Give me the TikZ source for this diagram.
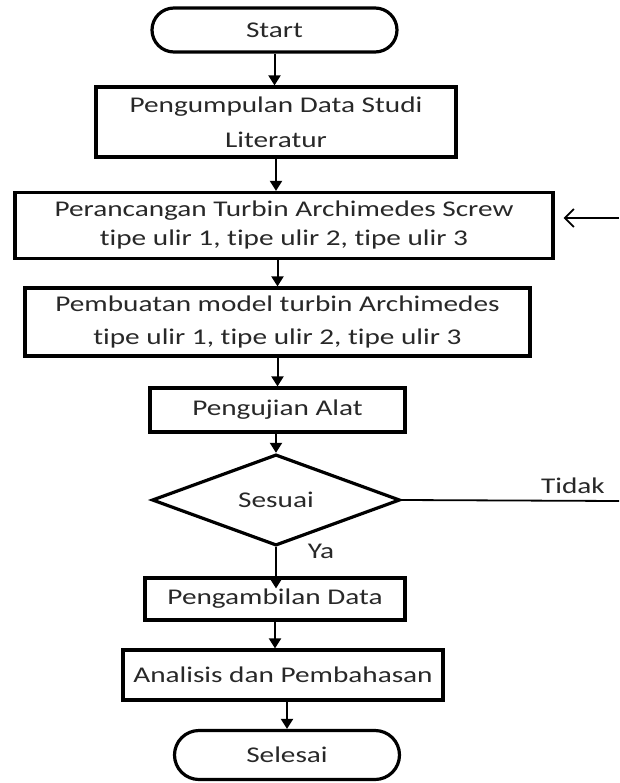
\documentclass[tikz,border=0pt]{standalone}
\usepackage{fontspec}
\setmainfont{Carlito}[FakeStretch=1.3,Ligatures=NoCommon]
\usetikzlibrary{shapes.geometric,shapes.misc,arrows.meta}
\definecolor{txt}{RGB}{40,40,40}
\begin{document}
\begin{tikzpicture}[x=1pt,y=-1pt,
  box/.style={draw,line width=3.2pt,rectangle,align=center,inner sep=0pt,text=txt,font=\fontsize{22.5}{33}\selectfont},
  term/.style={draw,line width=3.2pt,rounded rectangle,inner sep=0pt,text=txt,font=\fontsize{22.5}{33}\selectfont},
  dec/.style={draw,line width=3.2pt,diamond,inner sep=0pt,text=txt,font=\fontsize{22.5}{33}\selectfont},
  arr/.style={line width=2pt,-{Triangle[length=10pt,width=12pt]}},
  lbl/.style={font=\fontsize{22.5}{26}\selectfont,text=txt,inner sep=0pt}]
\useasboundingbox (0,0) rectangle (619,783);
\node[term,minimum width=245pt,minimum height=44pt] (start) at (274.5,30) {Start};
\node[box,minimum width=360pt,minimum height=70pt,font=\fontsize{22.5}{35}\selectfont] (b1) at (276,122) {Pengumpulan Data Studi\\Literatur};
\node[box,minimum width=538pt,minimum height=66pt,font=\fontsize{22.5}{29}\selectfont] (b2) at (284,225.5) {Perancangan Turbin Archimedes Screw\\tipe ulir 1, tipe ulir 2, tipe ulir 3};
\node[box,minimum width=505pt,minimum height=68pt] (b3) at (277.5,322) {Pembuatan model turbin Archimedes\\tipe ulir 1, tipe ulir 2, tipe ulir 3};
\node[box,minimum width=255pt,minimum height=44pt] (b4) at (277.5,410) {Pengujian Alat};
\node[dec,minimum width=248pt,minimum height=80pt] (d) at (276,500) {Sesuai};
\node[box,minimum width=260pt,minimum height=42pt] (b5) at (275,599) {Pengambilan Data};
\node[box,minimum width=320pt,minimum height=50pt] (b6) at (283,675) {Analisis dan Pembahasan};
\node[term,minimum width=225pt,minimum height=49pt] (end) at (287,755) {Selesai};
\coordinate (re) at (619,501);
\coordinate (ra) at (619,218);
\draw[arr] (start.south) -- (start.south |- b1.north);
\draw[arr] (b1.south) -- (b1.south |- b2.north);
\draw[arr] (b3.north |- b2.south) -- (b3.north);
\draw[arr] (b3.south) -- (b3.south |- b4.north);
\draw[arr] (d.north |- b4.south) -- (d.north);
\draw[arr] (d.south) -- ([yshift=-12pt]d.south |- b5.north);
\draw[arr] (b5.south) -- (b5.south |- b6.north);
\draw[arr] (end.north |- b6.south) -- (end.north);
\draw[line width=1.8pt] (d.east) -- (re);
\draw[line width=1.8pt,-{Straight Barb[length=9pt,width=18pt]}] (ra) -- ([xshift=9pt]b2.east |- ra);
\node[lbl] (tidak) at (573,486) {Tidak};
\node[lbl] (ya) at (321,551) {Ya};
\end{tikzpicture}
\end{document}
